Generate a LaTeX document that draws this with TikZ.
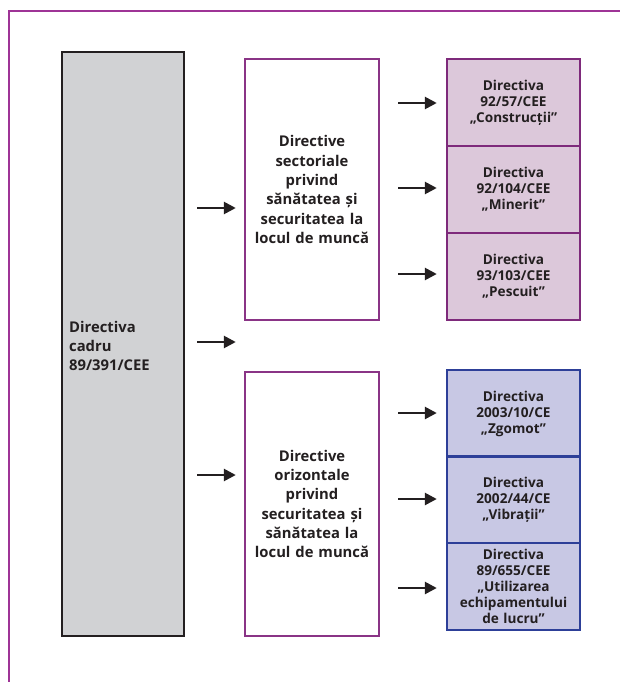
\documentclass[tikz,border=0pt]{standalone}
\usepackage{fontspec}
\setmainfont{Open Sans}[BoldFont={* Bold}]
\usetikzlibrary{arrows.meta}
\definecolor{framepurple}{HTML}{9E3496}
\definecolor{boxpurple}{HTML}{8A3486}
\definecolor{pinkfill}{HTML}{DCC8DA}
\definecolor{pinkedge}{HTML}{7E2A7B}
\definecolor{bluefill}{HTML}{C8C8E4}
\definecolor{blueedge}{HTML}{2D3F98}
\definecolor{grayfill}{HTML}{D1D2D4}
\definecolor{inkdark}{HTML}{231F20}
\tikzset{
  framebox/.style={draw=inkdark, line width=2.4pt, fill=grayfill, inner sep=0pt},
  midbox/.style={draw=boxpurple, line width=2.4pt, fill=white, inner sep=0pt,
    minimum width=134pt, text width=126pt, align=center,
    font=\fontsize{14.8}{19.3}\selectfont\bfseries, text=inkdark},
  pinkbox/.style={draw=pinkedge, line width=2.4pt, fill=pinkfill, inner sep=0pt,
    minimum width=133pt, minimum height=87pt, text width=128pt, align=center,
    font=\fontsize{13.6}{16}\selectfont\bfseries, text=inkdark},
  bluebox/.style={pinkbox, draw=blueedge, fill=bluefill},
  arr/.style={draw=inkdark, line width=2.6pt,
    -{Triangle[length=12pt,width=12pt]}},
}
\begin{document}
\begin{tikzpicture}[x=1pt,y=-1pt]
\useasboundingbox (0,0) rectangle (620,682);
% outer frame
\draw[framepurple, line width=2pt] (9,682) -- (9,11) -- (620,11);

% framework directive
\node[framebox, minimum width=122pt, minimum height=584pt] (cadru) at (123,344) {};
\node[anchor=west, align=left, font=\fontsize{14.8}{19.3}\selectfont\bfseries,
  text=inkdark, inner sep=0pt] (cadrutxt) at (69,346)
  {Directiva\\cadru\\89/391/CEE};

% sectoral and horizontal groups
\node[midbox, minimum height=261pt] (sect) at (312,189.5)
  {Directive\\sectoriale\\privind\\sănătatea și\\securitatea la\\locul de muncă};
\node[midbox, minimum height=264pt] (oriz) at (312,504)
  {Directive\\orizontale\\privind\\securitatea și\\sănătatea la\\locul de muncă};

% sectoral directives
\node[pinkbox] (s1) at (513.5,102.5) {Directiva\\92/57/CEE\\„Construcții"};
\node[pinkbox] (s2) at (513.5,189.5) {Directiva\\92/104/CEE\\„Minerit"};
\node[pinkbox] (s3) at (513.5,276.5) {Directiva\\93/103/CEE\\„Pescuit"};

% horizontal directives
\node[bluebox] (h1) at (513.5,413.5) {Directiva\\2003/10/CE\\„Zgomot"};
\node[bluebox] (h2) at (513.5,500) {Directiva\\2002/44/CE\\„Vibrații"};
\node[bluebox] (h3) at (513.5,586.5) {Directiva\\89/655/CEE\\„Utilizarea\\echipamentului\\de lucru"};

% arrows from the framework directive
\draw[arr, shorten <=12pt, shorten >=8pt] (cadru.east |- 0,208) -- (sect.west |- 0,208);
\draw[arr, shorten <=12pt, shorten >=8pt] (cadru.east |- 0,342) -- (sect.west |- 0,342);
\draw[arr, shorten <=12pt, shorten >=8pt] (cadru.east |- 0,475) -- (oriz.west |- 0,475);

% arrows to individual directives
\draw[arr, shorten <=18pt, shorten >=9pt] (sect.east |- 0,103) -- (s1.west |- 0,103);
\draw[arr, shorten <=18pt, shorten >=9pt] (sect.east |- 0,188) -- (s2.west |- 0,188);
\draw[arr, shorten <=18pt, shorten >=9pt] (sect.east |- 0,274) -- (s3.west |- 0,274);
\draw[arr, shorten <=18pt, shorten >=9pt] (oriz.east |- 0,413) -- (h1.west |- 0,413);
\draw[arr, shorten <=18pt, shorten >=9pt] (oriz.east |- 0,499) -- (h2.west |- 0,499);
\draw[arr, shorten <=18pt, shorten >=9pt] (oriz.east |- 0,588) -- (h3.west |- 0,588);
\end{tikzpicture}
\end{document}
